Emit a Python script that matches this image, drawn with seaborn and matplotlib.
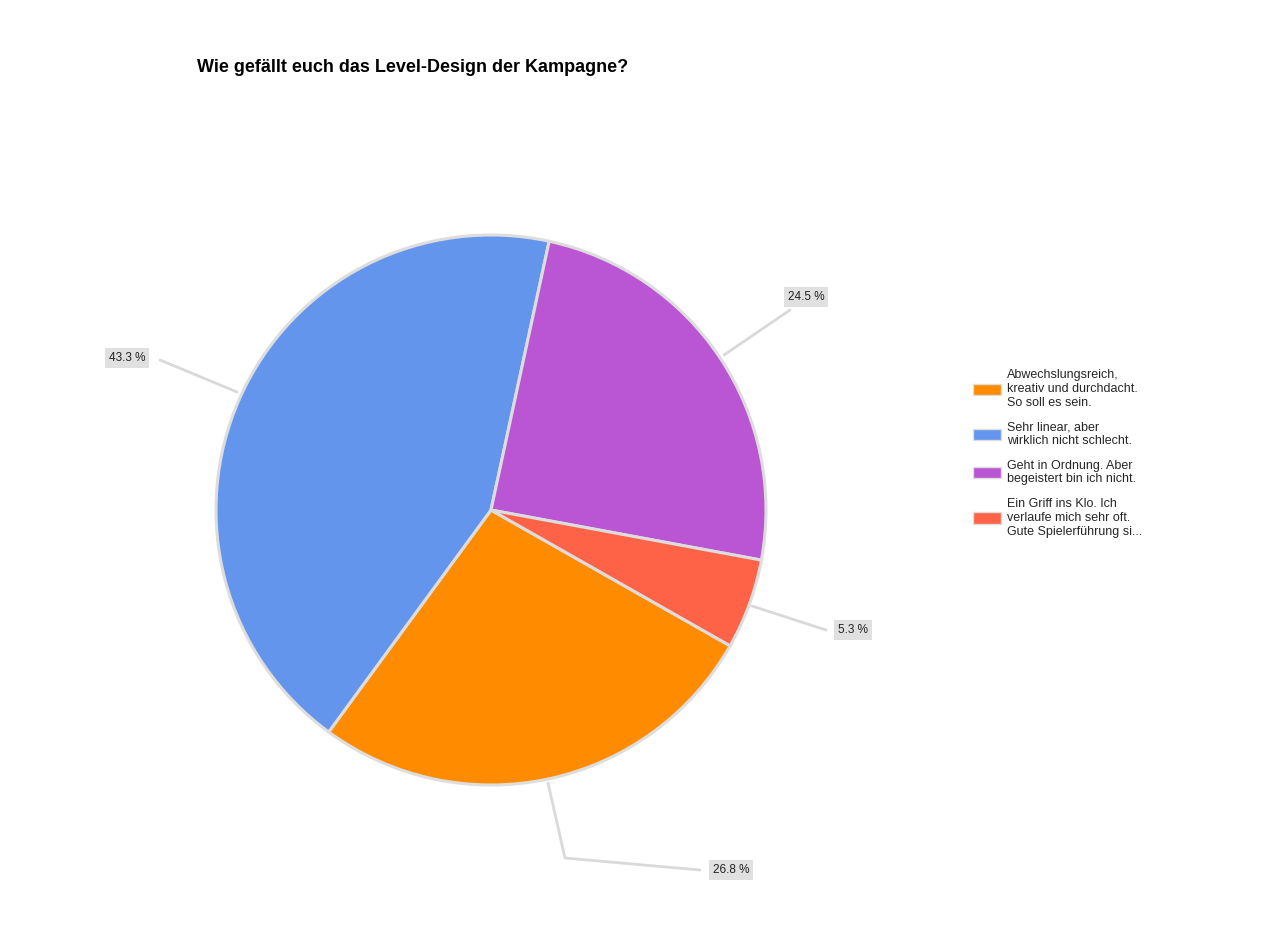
import matplotlib
matplotlib.use("agg")
import matplotlib.pyplot as plt
import seaborn as sns
from matplotlib.patches import Patch

sns.set_theme(style="white")
plt.rcParams["font.family"] = ["Liberation Sans", "DejaVu Sans"]

# data in legend order
categories = [
    "Abwechslungsreich,\nkreativ und durchdacht.\nSo soll es sein.",
    "Sehr linear, aber\nwirklich nicht schlecht.",
    "Geht in Ordnung. Aber\nbegeistert bin ich nicht.",
    "Ein Griff ins Klo. Ich\nverlaufe mich sehr oft.\nGute Spielerführung si...",
]
shares = [26.8, 43.3, 24.5, 5.3]
colors = ["#ff8c00", "#6495ed", "#ba55d3", "#ff6347"]
value_labels = ["26.8 %", "43.3 %", "24.5 %", "5.3 %"]

W, H = 1280, 943
fig = plt.figure(figsize=(W / 100, H / 100), dpi=100)
ax = fig.add_axes([0, 0, 1, 1])
ax.set_xlim(0, W)
ax.set_ylim(0, H)
ax.set_aspect("equal")
ax.axis("off")

cx, cy, r = 491, H - 510, 275
ax.pie(shares, colors=colors, center=(cx, cy), radius=r, startangle=-29.6,
       counterclock=False, wedgeprops=dict(edgecolor="#dddddd", linewidth=2.2),
       frame=True)
ax.set_xlim(0, W)
ax.set_ylim(0, H)
ax.axis("off")

box = dict(boxstyle="square,pad=0.35", facecolor="#e0e0e0", edgecolor="none")
line = dict(color="#d9d9d9", lw=2)
# leader lines and value boxes (orange, blue, purple, red)
ax.plot([548, 565, 700], [H - 783, H - 858, H - 870], **line)
ax.text(731, H - 870, value_labels[0], ha="center", va="center", fontsize=8.5, bbox=box, color="#222222")
ax.plot([237, 160], [H - 392, H - 360], **line)
ax.text(127, H - 358, value_labels[1], ha="center", va="center", fontsize=8.5, bbox=box, color="#222222")
ax.plot([724, 790], [H - 355, H - 310], **line)
ax.text(806, H - 297, value_labels[2], ha="center", va="center", fontsize=8.5, bbox=box, color="#222222")
ax.plot([752, 826], [H - 606, H - 630], **line)
ax.text(853, H - 630, value_labels[3], ha="center", va="center", fontsize=8.5, bbox=box, color="#222222")

fig.text(197 / W, 1 - 68 / H, "Wie gefällt euch das Level-Design der Kampagne?",
         fontsize=13, fontweight="bold", color="#000000", va="center", ha="left")

handles = [Patch(facecolor=c, edgecolor="#dddddd") for c in colors]
fig.legend(handles, categories, loc="upper left", bbox_to_anchor=(962 / W, 1 - 358 / H),
           frameon=False, fontsize=9, handlelength=2.2, handleheight=1.0,
           labelspacing=1.0, handletextpad=0.5)

fig.savefig("out.png", dpi=100, facecolor="white")
